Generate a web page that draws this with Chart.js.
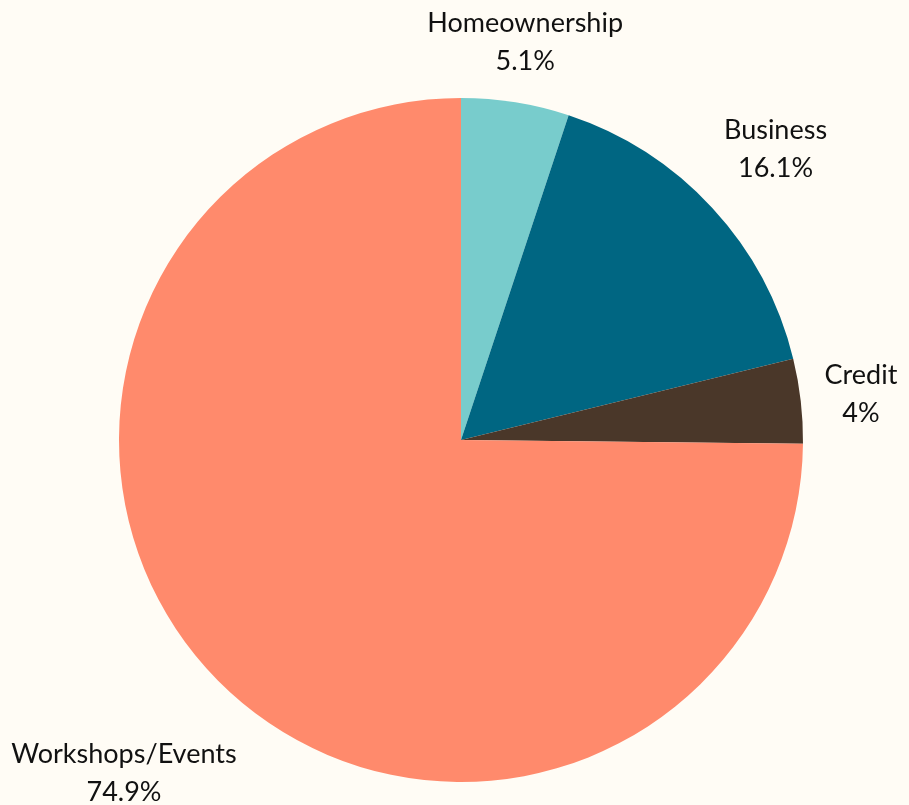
<!DOCTYPE html>
<html>
<head>
<meta charset="utf-8">
<script src="https://cdn.jsdelivr.net/npm/chart.js@4/dist/chart.umd.min.js"></script>
<style>
  html, body { margin: 0; padding: 0; background: #FFFCF5; }
  #wrap { width: 909px; height: 805px; position: relative; }
</style>
</head>
<body>
<div id="wrap"><canvas id="c" width="909" height="805"></canvas></div>
<script>
const categories = ["Homeownership", "Business", "Credit", "Workshops/Events"];
const values = [5.1, 16.1, 4, 74.9];
const valueLabels = ["5.1%", "16.1%", "4%", "74.9%"];
const colors = ["#78CCCC", "#006682", "#4A3729", "#FF8A6C"];
const labelGaps = [22, 30, 24, 78];

const FONT = '27px Lato, "Open Sans", sans-serif';
const LINE_H = 38;

const outsideLabels = {
  id: 'outsideLabels',
  afterDatasetsDraw(chart) {
    const ctx = chart.ctx;
    const meta = chart.getDatasetMeta(0);
    ctx.save();
    ctx.font = FONT;
    ctx.fillStyle = '#111111';
    ctx.textAlign = 'center';
    ctx.textBaseline = 'middle';
    meta.data.forEach((arc, i) => {
      const p = arc.getProps(['x', 'y', 'startAngle', 'endAngle', 'outerRadius'], true);
      const mid = (p.startAngle + p.endAngle) / 2;
      const dx = Math.cos(mid), dy = Math.sin(mid);
      const lines = [categories[i], valueLabels[i]];
      const w = Math.max(...lines.map(t => ctx.measureText(t).width));
      const h = LINE_H * lines.length;
      const ex = Math.abs(dx) > 1e-6 ? (w / 2) / Math.abs(dx) : Infinity;
      const ey = Math.abs(dy) > 1e-6 ? (h / 2) / Math.abs(dy) : Infinity;
      const dist = p.outerRadius + labelGaps[i] + Math.min(ex, ey);
      const cx = p.x + dx * dist;
      const cy = p.y + dy * dist;
      lines.forEach((t, k) => {
        ctx.fillText(t, cx, cy + (k - (lines.length - 1) / 2) * LINE_H);
      });
    });
    ctx.restore();
  }
};

new Chart(document.getElementById('c'), {
  type: 'pie',
  data: {
    labels: categories,
    datasets: [{
      data: values,
      backgroundColor: colors,
      borderWidth: 0
    }]
  },
  options: {
    responsive: false,
    animation: false,
    layout: { padding: { top: 98, bottom: 23, left: 119, right: 106 } },
    plugins: {
      legend: { display: false },
      tooltip: { enabled: false }
    }
  },
  plugins: [outsideLabels]
});
</script>
</body>
</html>
